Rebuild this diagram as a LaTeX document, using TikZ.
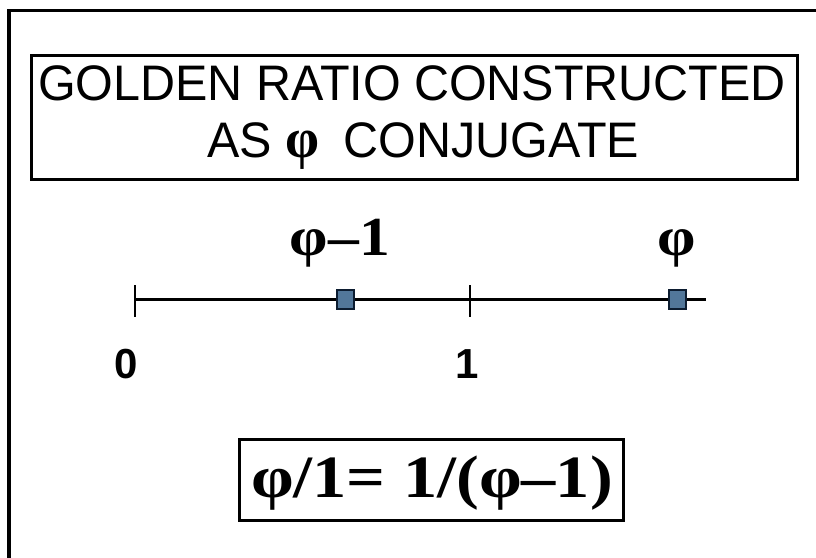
\documentclass[tikz,border=0pt]{standalone}
\usepackage{graphicx}
\usepackage{fontspec}
\setmainfont{Liberation Serif}
\newfontfamily\arialfont{Liberation Sans}
\definecolor{mkfill}{HTML}{52779A}
\definecolor{mkdraw}{HTML}{0C1C30}
\newcommand{\wide}[2]{\scalebox{#1}[1]{#2}}
\begin{document}
\begin{tikzpicture}[x=1pt,y=-1pt,
  framestyle/.style={line width=3.5pt},
  boxstyle/.style={draw, line width=3pt, inner sep=0pt},
  axisstyle/.style={line width=3pt},
  tickstyle/.style={line width=2pt},
  marker/.style={draw=mkdraw, fill=mkfill, line width=2pt, minimum width=17pt, minimum height=19pt, inner sep=0pt},
  titletext/.style={inner sep=0pt, anchor=base, font=\arialfont\fontsize{48}{48}\selectfont},
  ticklabel/.style={inner sep=0pt, anchor=base, font=\arialfont\bfseries\fontsize{42}{42}\selectfont},
  philabel/.style={inner sep=0pt, anchor=base, font=\rmfamily\bfseries\fontsize{55}{55}\selectfont},
  formula/.style={inner sep=0pt, anchor=base, font=\rmfamily\bfseries\fontsize{60}{60}\selectfont}
]
\useasboundingbox[fill=white] (0,0) rectangle (816,557);
% outer frame (cropped)
\coordinate (fbl) at (9,560);
\coordinate (ftl) at (9,10.5);
\coordinate (ftr) at (820,10.5);
\draw[framestyle] (fbl) -- (ftl) -- (ftr);
% title box
\node[boxstyle, minimum width=766pt, minimum height=124pt] (titlebox) at (414,117) {};
\node[titletext] (title1) at (412,100) {\scalebox{1.01}[1.04]{GOLDEN RATIO CONSTRUCTED}};
\node[titletext, anchor=base west] (title2) at (207,157) {\scalebox{1.01}[1.04]{AS {\rmfamily\bfseries\fontsize{54}{54}\selectfont φ}\hspace{24pt}CONJUGATE}};
% number line
\coordinate (axL) at (135,299);
\coordinate (axR) at (706,299);
\draw[axisstyle] (axL) -- (axR);
\coordinate (t0a) at (135,285); \coordinate (t0b) at (135,317);
\coordinate (t1a) at (470,285); \coordinate (t1b) at (470,317);
\draw[tickstyle] (t0a) -- (t0b);
\draw[tickstyle] (t1a) -- (t1b);
\node[marker] (pm1) at (345,299) {};
\node[marker] (pphi) at (677,299) {};
\node[philabel] (lpm1) at (340,255) {\wide{1.12}{φ–1}};
\node[philabel] (lphi) at (677,255) {\wide{1.12}{φ}};
\node[ticklabel] (l0) at (126,378) {0};
\node[ticklabel] (l1) at (467,378) {1};
% formula box
\node[boxstyle, minimum width=384pt, minimum height=81pt] (fbox) at (431,479.5) {};
\node[formula] (form) at (432,497) {\wide{1.14}{φ/1= 1/(φ–1)}};
\end{tikzpicture}
\end{document}
